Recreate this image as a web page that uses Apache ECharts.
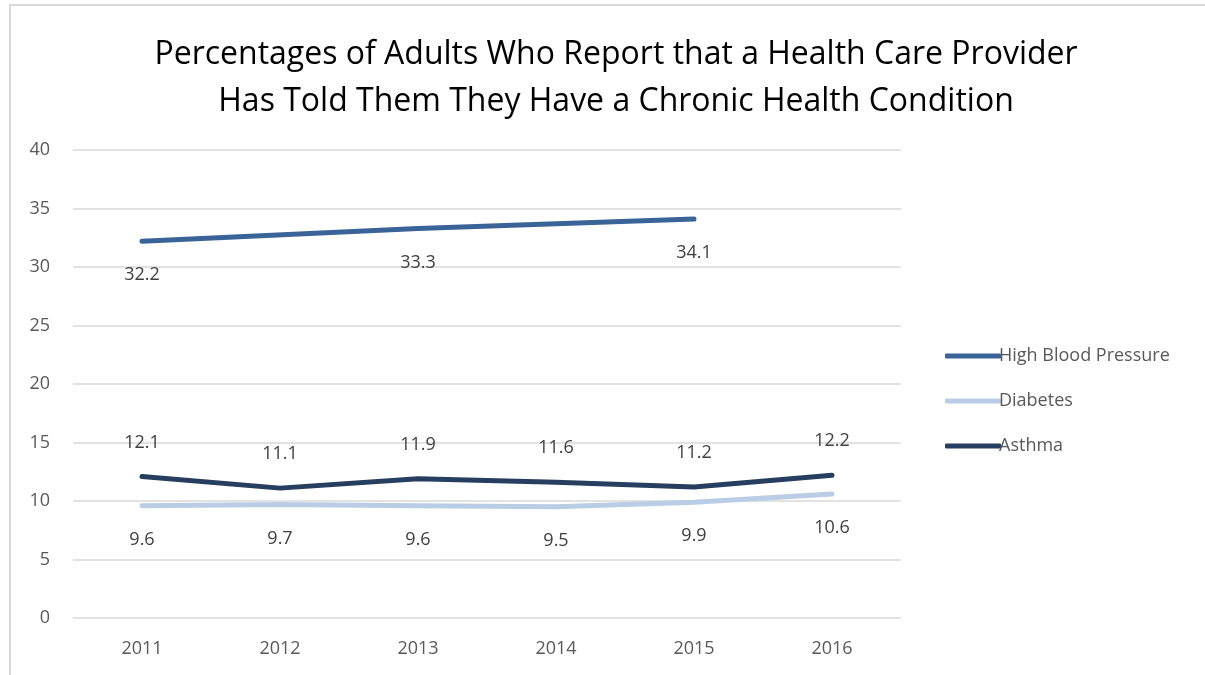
<!DOCTYPE html>
<html>
<head>
<meta charset="utf-8">
<script src="https://cdn.jsdelivr.net/npm/echarts@6/dist/echarts.min.js"></script>
<style>
  html, body { margin: 0; padding: 0; background: #fff; }
  #main { width: 1205px; height: 675px; }
</style>
</head>
<body>
<div id="main"></div>
<script>
var years = ['2011', '2012', '2013', '2014', '2015', '2016'];
// only odd years reported for blood pressure
var highBloodPressure = [32.2, null, 33.3, null, 34.1, null];
var diabetes = [9.6, 9.7, 9.6, 9.5, 9.9, 10.6];
var asthma = [12.1, 11.1, 11.9, 11.6, 11.2, 12.2];

var chart = echarts.init(document.getElementById('main'));

var labelFont = { fontFamily: 'Open Sans', fontSize: 18, color: '#404040' };

function lineSeries(name, data, color, labelPos) {
  return {
    name: name,
    type: 'line',
    data: data,
    connectNulls: true,
    symbol: 'circle',
    symbolSize: 2,
    showSymbol: true,
    showAllSymbol: true,
    lineStyle: { color: color, width: 5, cap: 'round' },
    itemStyle: { color: color },
    label: Object.assign({ show: true, position: labelPos, distance: 24 }, labelFont),
    labelLayout: { hideOverlap: false },
    emphasis: { disabled: true }
  };
}

var option = {
  backgroundColor: '#fff',
  animation: false,
  graphic: [
    {
      type: 'rect',
      shape: { x: 10, y: 5, width: 1300, height: 800 },
      style: { fill: 'none', stroke: '#d9d9d9', lineWidth: 2 },
      silent: true
    }
  ],
  title: {
    text: 'Percentages of Adults Who Report that a Health Care Provider\nHas Told Them They Have a Chronic Health Condition',
    left: 611,
    top: 26,
    textAlign: 'center',
    textStyle: {
      fontFamily: 'Open Sans',
      fontWeight: 'normal',
      fontSize: 32,
      lineHeight: 47,
      color: '#000'
    }
  },
  legend: {
    orient: 'vertical',
    left: 940,
    top: 339,
    itemGap: 21,
    itemWidth: 56,
    itemHeight: 5,
    icon: 'roundRect',
    textStyle: { fontFamily: 'Open Sans', fontSize: 18, lineHeight: 24, color: '#595959', padding: [0, 0, 0, -7] },
    data: ['High Blood Pressure', 'Diabetes', 'Asthma']
  },
  grid: { left: 73, right: 304, top: 150, bottom: 57 },
  xAxis: {
    type: 'category',
    data: years,
    boundaryGap: true,
    axisLine: { show: false },
    axisTick: { show: false },
    axisLabel: { fontFamily: 'Open Sans', fontSize: 18, color: '#595959', margin: 22 }
  },
  yAxis: {
    type: 'value',
    min: 0,
    max: 40,
    interval: 5,
    axisLine: { show: false },
    axisTick: { show: false },
    axisLabel: { fontFamily: 'Open Sans', fontSize: 18, color: '#595959', margin: 23 },
    splitLine: { lineStyle: { color: '#d9d9d9', width: 1.5 } }
  },
  series: [
    lineSeries('High Blood Pressure', highBloodPressure, '#3a6497', 'bottom'),
    lineSeries('Diabetes', diabetes, '#b9cde5', 'bottom'),
    lineSeries('Asthma', asthma, '#263e5f', 'top')
  ]
};

chart.setOption(option);
</script>
</body>
</html>
